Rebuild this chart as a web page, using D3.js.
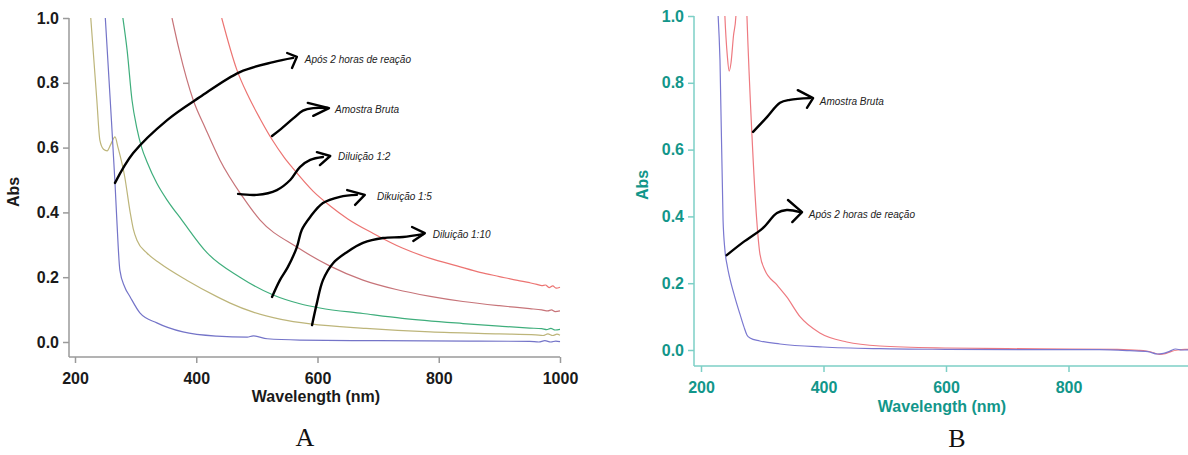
<!DOCTYPE html>
<html><head><meta charset="utf-8">
<script src="https://cdn.jsdelivr.net/npm/d3@7"></script>
<style>body{margin:0;background:#fff}svg{display:block}</style>
</head><body>
<svg id="c" width="1188" height="455"></svg>
<script>
// ---------- DATA (wavelength nm, absorbance) ----------
const yTicks = [0, 0.2, 0.4, 0.6, 0.8, 1.0];
const xTicksA = [200, 400, 600, 800, 1000];
const xTicksB = [200, 400, 600, 800];

// Panel A series
const aAmostraBruta = [[442,1.0],[467,0.84],[485,0.762],[505,0.69],[525,0.625],[545,0.57],[560,0.535],[593,0.465],[621,0.42],[650,0.38],[692,0.335],[740,0.29],[786,0.258],[830,0.235],[868,0.215],[900,0.202],[930,0.19],[950,0.183],[962,0.178],[970,0.174],[976,0.176],[982,0.168],[988,0.173],[994,0.166],[1000,0.169]];
const aDil12 = [[360,1.0],[372,0.90],[395,0.747],[415,0.66],[439,0.562],[477,0.447],[505,0.377],[566,0.293],[620,0.235],[675,0.191],[730,0.162],[786,0.141],[840,0.125],[900,0.112],[950,0.103],[970,0.099],[980,0.096],[986,0.099],[992,0.094],[1000,0.096]];
const aDil15 = [[279,1.0],[286,0.90],[294,0.747],[302,0.66],[310,0.60],[319,0.555],[335,0.49],[352,0.438],[376,0.377],[418,0.275],[472,0.20],[527,0.145],[571,0.118],[604,0.105],[675,0.088],[740,0.073],[840,0.057],[900,0.049],[950,0.043],[970,0.041],[978,0.038],[985,0.042],[992,0.037],[1000,0.039]];
const aDil110 = [[226,1.0],[236,0.747],[241,0.623],[247,0.595],[253,0.59],[259,0.61],[266,0.633],[271,0.60],[282,0.51],[291,0.40],[296,0.35],[302,0.315],[319,0.274],[340,0.243],[385,0.19],[434,0.14],[456,0.12],[494,0.092],[540,0.07],[588,0.056],[680,0.042],[786,0.031],[900,0.025],[960,0.022],[972,0.02],[980,0.025],[988,0.02],[995,0.024],[1000,0.021]];
const aApos2h = [[250,1.0],[258,0.75],[266,0.49],[269,0.377],[274,0.222],[282,0.17],[291,0.139],[307,0.09],[335,0.059],[378,0.031],[434,0.018],[484,0.015],[494,0.019],[517,0.01],[571,0.006],[700,0.004],[850,0.003],[950,0.002],[965,0.0],[975,0.004],[985,0.0],[993,0.003],[1000,0.001]];

// Panel B series
const bAmostraBruta = [[234,1.3],[239,1.0],[243,0.88],[246,0.835],[249,0.86],[253,0.94],[257,1.0],[262,1.3],[270,1.3],[275,1.0],[283,0.65],[291,0.389],[296,0.29],[304,0.24],[324,0.195],[340,0.159],[362,0.099],[394,0.051],[438,0.024],[492,0.012],[602,0.006],[700,0.004],[800,0.003],[880,0.002],[915,-0.001],[935,-0.006],[948,-0.013],[958,-0.011],[968,-0.004],[978,0.0],[990,0.002],[1000,0.001]];
const bApos2h = [[228,1.0],[231,0.868],[236,0.389],[239,0.30],[243,0.25],[247,0.215],[255,0.16],[264,0.105],[270,0.07],[275,0.045],[280,0.036],[296,0.027],[329,0.018],[399,0.009],[492,0.004],[600,0.002],[750,0.001],[850,0.001],[900,-0.002],[930,-0.005],[945,-0.012],[955,-0.01],[965,-0.004],[975,0.003],[985,0.0],[1000,0.001]];

// Annotations (hand-drawn arrows), data units
const annA = [
  {label:"Após 2 horas de reação", path:[[266,0.491],[296,0.583],[352,0.685],[406,0.756],[472,0.833],[527,0.864],[560,0.877]], head:[[550,0.892],[566,0.880],[558,0.846]], at:[579,0.870]},
  {label:"Amostra Bruta", path:[[525,0.636],[540,0.658],[560,0.69],[576,0.714],[593,0.722],[617,0.722]], head:[[584,0.738],[619,0.722],[593,0.698]], at:[629,0.716]},
  {label:"Diluição 1:2", path:[[469,0.457],[500,0.454],[533,0.469],[555,0.50],[571,0.54],[588,0.562],[609,0.571]], head:[[599,0.586],[621,0.574],[604,0.546]], at:[634,0.571]},
  {label:"Dikuição 1:5", path:[[525,0.139],[538,0.191],[551,0.231],[566,0.293],[574,0.346],[588,0.386],[609,0.429],[637,0.448],[665,0.454]], head:[[649,0.469],[678,0.454],[662,0.423]], at:[698,0.448]},
  {label:"Diluição 1:10", path:[[591,0.052],[599,0.120],[609,0.191],[626,0.244],[649,0.278],[675,0.306],[708,0.321],[741,0.324],[774,0.333]], head:[[756,0.355],[777,0.336],[758,0.312]], at:[790,0.330]}
];
const annB = [
  {label:"Amostra Bruta", path:[[285,0.653],[308,0.698],[329,0.740],[345,0.749],[378,0.754]], head:[[358,0.778],[383,0.754],[373,0.725]], at:[394,0.743]},
  {label:"Após 2 horas de reação", path:[[242,0.284],[269,0.323],[301,0.365],[324,0.410],[340,0.419],[362,0.413]], head:[[342,0.449],[365,0.413],[349,0.383]], at:[376,0.404]}
];

// ---------- DRAW ----------
const svg = d3.select("#c");
const FONT = "'Liberation Sans', Arial, sans-serif";

function panel(cfg){
  const g = svg.append("g");
  const x = d3.scaleLinear().domain([200,1000]).range(cfg.xr);
  const y = d3.scaleLinear().domain([0,1]).range(cfg.yr);
  const clipId = "clip"+cfg.id;
  g.append("clipPath").attr("id",clipId).append("rect")
    .attr("x",cfg.axX+1).attr("y",y(1)).attr("width",1188-cfg.axX).attr("height",cfg.axY-y(1)-2);

  g.append("line").attr("x1",cfg.axX).attr("x2",cfg.axX).attr("y1",y(1)).attr("y2",cfg.axY)
    .attr("stroke",cfg.axisColor).attr("stroke-width",1.5);
  g.append("line").attr("x1",cfg.axX).attr("x2",cfg.xEnd).attr("y1",cfg.axY).attr("y2",cfg.axY)
    .attr("stroke",cfg.axisColor).attr("stroke-width",1.5);

  const yAx = g.append("g").attr("transform",`translate(${cfg.axX},0)`)
    .call(d3.axisLeft(y).tickValues(yTicks).tickFormat(d3.format(".1f")).tickSize(6).tickPadding(4));
  const xAx = g.append("g").attr("transform",`translate(0,${cfg.axY})`)
    .call(d3.axisBottom(x).tickValues(cfg.xTicks).tickFormat(d3.format("d")).tickSize(6).tickPadding(10));
  [yAx,xAx].forEach(a=>{
    a.select(".domain").remove();
    a.selectAll("line").attr("stroke",cfg.axisColor).attr("stroke-width",1.5);
    a.selectAll("text").attr("fill",cfg.labelColor).style("font-family",FONT)
      .style("font-size","16px").style("font-weight","bold");
  });

  g.append("text").attr("transform",`translate(${cfg.absX},${cfg.absY}) rotate(-90)`)
    .attr("text-anchor","middle").attr("fill",cfg.labelColor)
    .style("font-family",FONT).style("font-size","16px").style("font-weight","bold").text("Abs");
  g.append("text").attr("x",cfg.titleX).attr("y",cfg.titleY).attr("text-anchor","middle")
    .attr("fill",cfg.labelColor).style("font-family",FONT).style("font-size","16px").style("font-weight","bold")
    .text("Wavelength (nm)");
  g.append("text").attr("x",cfg.letterX).attr("y",cfg.letterY).attr("text-anchor","middle")
    .attr("fill","#111").style("font-family","'Liberation Serif','Times New Roman',serif")
    .style("font-size","26px").text(cfg.letter);

  const line = d3.line().x(d=>x(d[0])).y(d=>y(d[1])).curve(d3.curveMonotoneX);
  const lg = g.append("g").attr("clip-path",`url(#${clipId})`);
  cfg.series.forEach(s=>{
    lg.append("path").datum(s.data).attr("d",line).attr("fill","none")
      .attr("stroke",s.color).attr("stroke-width",1.2).attr("stroke-linejoin","round");
  });

  const aLine = d3.line().x(d=>x(d[0])).y(d=>y(d[1])).curve(d3.curveCatmullRom);
  const hLine = d3.line().x(d=>x(d[0])).y(d=>y(d[1]));
  cfg.ann.forEach(a=>{
    g.append("path").datum(a.path).attr("d",aLine).attr("fill","none").attr("stroke","#000")
      .attr("stroke-width",2.4).attr("stroke-linecap","round").attr("stroke-linejoin","round");
    g.append("path").datum(a.head).attr("d",hLine).attr("fill","none").attr("stroke","#000")
      .attr("stroke-width",2.4).attr("stroke-linecap","round").attr("stroke-linejoin","round");
    g.append("text").attr("x",x(a.at[0])).attr("y",y(a.at[1])+3)
      .attr("fill","#222").style("font-family",FONT).style("font-size","10px").style("font-style","italic")
      .text(a.label);
  });
}

panel({
  id:"A", xr:[75,560], yr:[342,18], axX:69, axY:357, xEnd:560, xTicks:xTicksA,
  axisColor:"#9a9a9a", labelColor:"#1a1a1a",
  absX:19, absY:192, titleX:316, titleY:402, letter:"A", letterX:305, letterY:446,
  series:[
    {data:aAmostraBruta, color:"#ec7472"},
    {data:aDil12, color:"#c77479"},
    {data:aDil15, color:"#3fae7c"},
    {data:aDil110, color:"#bdb57a"},
    {data:aApos2h, color:"#7474c8"}
  ],
  ann:annA
});

panel({
  id:"B", xr:[701,1191], yr:[350,16], axX:694, axY:366, xEnd:1188, xTicks:xTicksB,
  axisColor:"#7ccfc6", labelColor:"#12968a",
  absX:648, absY:185, titleX:942, titleY:412, letter:"B", letterX:957, letterY:447,
  series:[
    {data:bAmostraBruta, color:"#ee7a80"},
    {data:bApos2h, color:"#7a78d0"}
  ],
  ann:annB
});
</script>
</body></html>
